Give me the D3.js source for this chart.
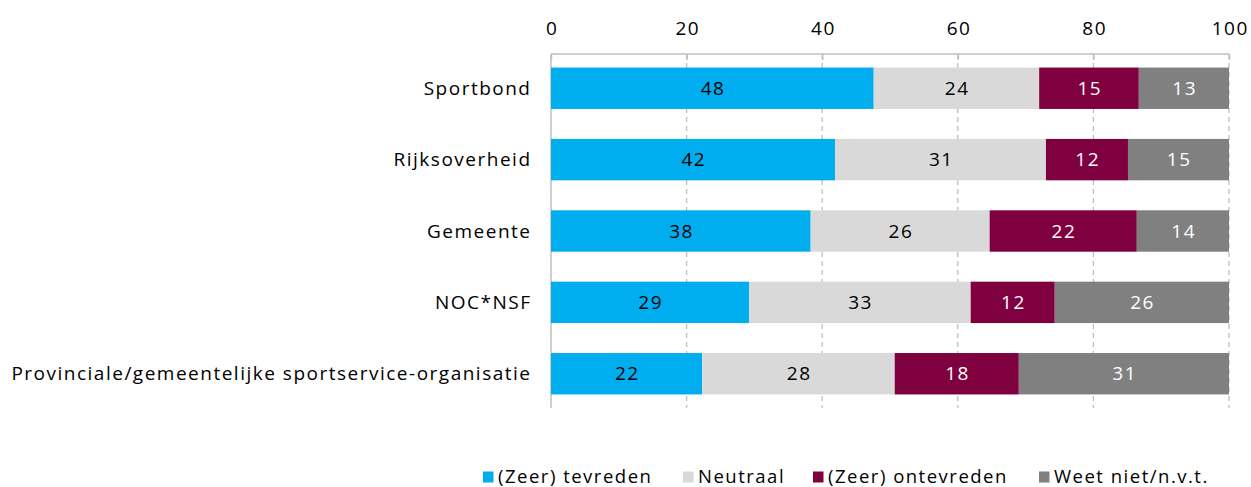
<!DOCTYPE html>
<html><head><meta charset="utf-8">
<script src="https://cdn.jsdelivr.net/npm/d3@7"></script>
<style>body{margin:0;background:#fff;} text{font-family:"Open Sans",sans-serif;letter-spacing:1.5px;}</style>
</head><body><svg id="c" width="1251" height="487"></svg>
<script>
const categories = ["Sportbond","Rijksoverheid","Gemeente","NOC*NSF","Provinciale/gemeentelijke sportservice-organisatie"];
const seriesNames = ["(Zeer) tevreden","Neutraal","(Zeer) ontevreden","Weet niet/n.v.t."];
const tevreden   = [47.6, 41.9, 38.3, 29.2, 22.3];
const neutraal   = [24.4, 31.1, 26.4, 32.7, 28.4];
const ontevreden = [14.7, 12.1, 21.7, 12.4, 18.3];
const weetNiet   = [13.3, 14.9, 13.6, 25.7, 31.0];
const tickValues = [0,20,40,60,80,100];
const colors = ["#00AEEF","#D9D9D9","#7F003F","#808080"];
const labelColors = ["#000","#000","#fff","#fff"];

const FS = 19;
const svg = d3.select("#c");
const m = {left:551, right:1229, top:54, bottom:408};
const x = d3.scaleLinear().domain([0,100]).range([m.left,m.right]);
const y = d3.scaleBand().domain(categories).range([m.top,m.bottom]).paddingInner(0.42).paddingOuter(0.19);

const table = categories.map((c,i)=>({cat:c, [seriesNames[0]]:tevreden[i],[seriesNames[1]]:neutraal[i],[seriesNames[2]]:ontevreden[i],[seriesNames[3]]:weetNiet[i]}));
const stack = d3.stack().keys(seriesNames)(table);

// gridlines
svg.append("g").selectAll("line").data(tickValues.slice(1)).join("line")
  .attr("x1",d=>x(d)).attr("x2",d=>x(d)).attr("y1",m.top).attr("y2",m.bottom)
  .attr("stroke","#BFBFBF").attr("stroke-width",1.3).attr("stroke-dasharray","5,4");

// top axis
const ax = svg.append("g").attr("transform",`translate(0,${m.top})`)
  .call(d3.axisTop(x).tickValues(tickValues).tickSize(-6).tickPadding(19));
ax.select(".domain").attr("stroke","#BFBFBF").attr("stroke-width",1.5).attr("d",`M${m.left},0H${m.right}`);
ax.selectAll(".tick line").attr("stroke","#BFBFBF").attr("stroke-width",1.5);
ax.selectAll(".tick text").attr("font-size",FS).attr("fill","#000").attr("font-family","Open Sans").attr("dx","0.75px");

// left axis line
svg.append("line").attr("x1",m.left).attr("x2",m.left).attr("y1",m.top).attr("y2",m.bottom)
  .attr("stroke","#BFBFBF").attr("stroke-width",1.5);

// bars
const g = svg.append("g");
stack.forEach((s,si)=>{
  const gg = g.append("g");
  gg.selectAll("rect").data(s).join("rect")
    .attr("x",d=>x(d[0])).attr("width",d=>x(d[1])-x(d[0]))
    .attr("y",d=>y(d.data.cat)).attr("height",y.bandwidth())
    .attr("fill",colors[si]);
  gg.selectAll("text").data(s).join("text")
    .attr("x",d=>(x(d[0])+x(d[1]))/2+0.75).attr("y",d=>y(d.data.cat)+y.bandwidth()/2)
    .attr("dy","0.35em").attr("text-anchor","middle").attr("font-size",FS)
    .attr("fill",labelColors[si]).text(d=>Math.round(d[1]-d[0]));
});

// category labels
svg.append("g").selectAll("text").data(categories).join("text")
  .attr("x",531.5).attr("y",d=>y(d)+y.bandwidth()/2).attr("dy","0.35em")
  .attr("text-anchor","end").attr("font-size",FS).attr("fill","#000").text(d=>d);

// legend
const legX = [483, 683, 813, 1039];
const leg = svg.append("g").selectAll("g").data(seriesNames).join("g")
  .attr("transform",(d,i)=>`translate(${legX[i]},477)`);
leg.append("rect").attr("x",0).attr("y",-5.5).attr("width",10.5).attr("height",11).attr("fill",(d,i)=>colors[i]);
leg.append("text").attr("x",15).attr("y",0).attr("dy","0.35em").attr("font-size",18.5).attr("fill","#000").text(d=>d);
</script></body></html>
